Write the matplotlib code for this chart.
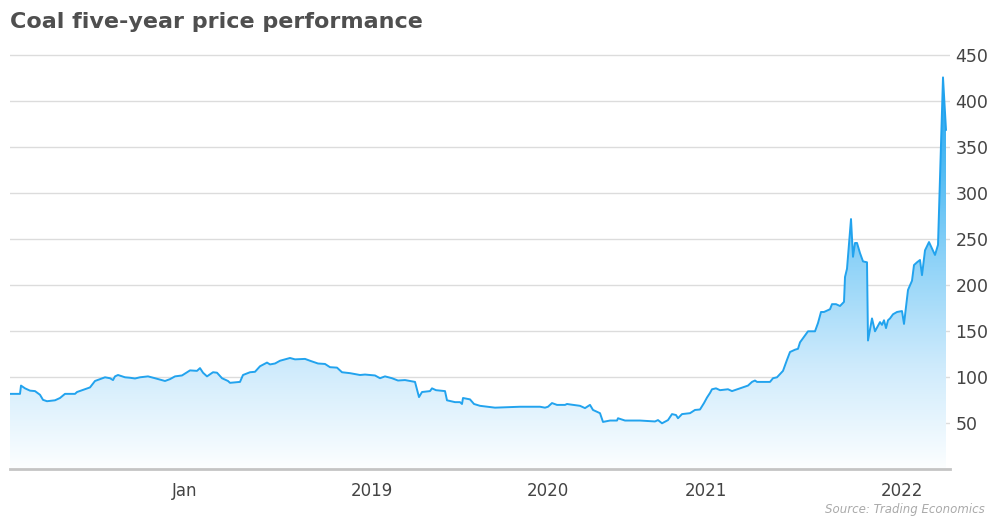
import numpy as np
import matplotlib
matplotlib.use("Agg")
import matplotlib.pyplot as plt
from matplotlib.colors import LinearSegmentedColormap
from matplotlib.patches import Polygon

# trading-session index and coal price (USD/t)
day = [0, 10, 11, 15, 20, 25, 30, 33, 37, 45, 50, 55, 65, 67, 75, 80, 85, 90, 95, 100,
       103, 105, 108, 115, 120, 125, 130, 138, 145, 155, 160, 165, 172, 180, 187, 190,
       193, 197, 203, 207, 212, 218, 220, 230, 233, 240, 245, 250, 257, 260, 265, 270,
       280, 285, 295, 300, 308, 315, 320, 327, 332, 340, 350, 355, 365, 370, 375, 382,
       388, 395, 405, 409, 412, 420, 422, 426, 435, 437, 445, 450, 452, 453, 460, 464,
       470, 485, 510, 530, 535, 538, 542, 547, 555, 557, 560, 570, 575, 580, 583, 590,
       593, 600, 607, 608, 615, 630, 645, 648, 652, 658, 662, 666, 668, 672, 680, 685,
       690, 694, 697, 700, 702, 706, 710, 718, 722, 730, 738, 742, 745, 747, 760, 763,
       767, 770, 773, 777, 780, 785, 788, 790, 795, 798, 805, 808, 811, 814, 820, 822,
       826, 830, 834, 835, 837, 841, 843, 845, 847, 850, 853, 857, 858, 862, 865, 870,
       872, 874, 876, 878, 880, 883, 887, 892, 894, 898, 902, 904, 907, 910, 912, 915,
       919, 922, 925, 928, 933, 936]
price = [82, 82, 91, 88, 85.5, 85, 81, 75.5, 74, 75, 77.5, 82, 82, 84, 87, 89, 96, 98, 100, 99,
         97, 101, 102.5, 100, 99.5, 98.7, 100, 101, 99, 96, 98, 101, 102, 107.5, 107, 110,
         105, 101, 105.5, 105, 99, 96, 94, 95, 102.5, 105.5, 106, 112, 116, 114, 115, 118,
         121, 119.5, 120, 118, 115, 114.5, 111, 110.5, 105.5, 104.5, 102.5, 103, 102, 99, 101, 99,
         96.5, 97, 95, 78.5, 84, 85, 88, 86, 85, 75, 73, 73, 71, 77.5, 76, 71,
         69, 67, 68, 68, 67, 68, 72, 70, 70, 71, 70.5, 69, 66.5, 70, 64.5, 61,
         51.5, 53, 53, 55.5, 53, 53, 52, 53.5, 50, 53.5, 60, 59, 55.5, 60, 61, 64.5,
         65, 72, 78, 83, 87, 88, 86, 87, 85, 88, 91, 95, 96.5, 95, 95, 99,
         100, 103.5, 107, 119, 127.5, 130, 131, 138, 145.5, 150, 150, 159, 171, 171, 174, 179.5,
         179.5, 177.5, 182, 209, 218, 272, 231, 246, 246, 235, 226, 225, 140, 164, 150, 160,
         157, 162, 153.5, 162, 164, 168.5, 171, 172, 158, 195, 205, 222, 225, 227.5, 211, 238,
         247, 240, 233, 244, 426, 369]

tick_pos = [175, 362, 538, 696, 892]
tick_labels = ["Jan", "2019", "2020", "2021", "2022"]
y_ticks = [50, 100, 150, 200, 250, 300, 350, 400, 450]

fig = plt.figure(figsize=(9.89, 5.17), dpi=100)
ax = fig.add_axes([10 / 989, 47.7 / 517, 940 / 989, 423.2 / 517])

# vertical gradient fill clipped under the line
cmap = LinearSegmentedColormap.from_list(
    "coal", ["#fcfeff", "#cfebfc", "#92d4f8", "#4fbaf3", "#1a9ff0"])
grad = np.linspace(0, 1, 256).reshape(-1, 1)
im = ax.imshow(grad, extent=[0, 940, 0, 440], aspect="auto", origin="lower",
               cmap=cmap, zorder=1)
verts = [(day[0], 0)] + list(zip(day, price)) + [(day[-1], 0)]
poly = Polygon(verts, closed=True, facecolor="none", edgecolor="none")
ax.add_patch(poly)
im.set_clip_path(poly)

ax.plot(day, price, color="#22a3ee", lw=1.4, zorder=3)

ax.set_xlim(0, 940)
ax.set_ylim(0, 460)
ax.set_yticks(y_ticks)
ax.set_xticks(tick_pos)
ax.set_xticklabels(tick_labels)
ax.yaxis.tick_right()
ax.grid(axis="y", color="#dcdcdc", lw=1, zorder=0)
ax.set_axisbelow(True)
for s in ["top", "left", "right"]:
    ax.spines[s].set_visible(False)
ax.spines["bottom"].set_color("#c4c4c4")
ax.spines["bottom"].set_linewidth(2)
ax.tick_params(axis="y", length=0, pad=4, labelsize=12.5, labelcolor="#444444")
ax.tick_params(axis="x", length=0, pad=9, labelsize=12, labelcolor="#444444")

fig.text(10 / 989, 1 - 22 / 517, "Coal five-year price performance", ha="left",
         va="center", fontsize=16, fontweight="heavy", color="#4f4f4f")
fig.text(985 / 989, 1 - 509 / 517, "Source: Trading Economics", ha="right",
         va="center", fontsize=8.5, style="italic", color="#aaaaaa")

fig.savefig("out.png", dpi=100)
